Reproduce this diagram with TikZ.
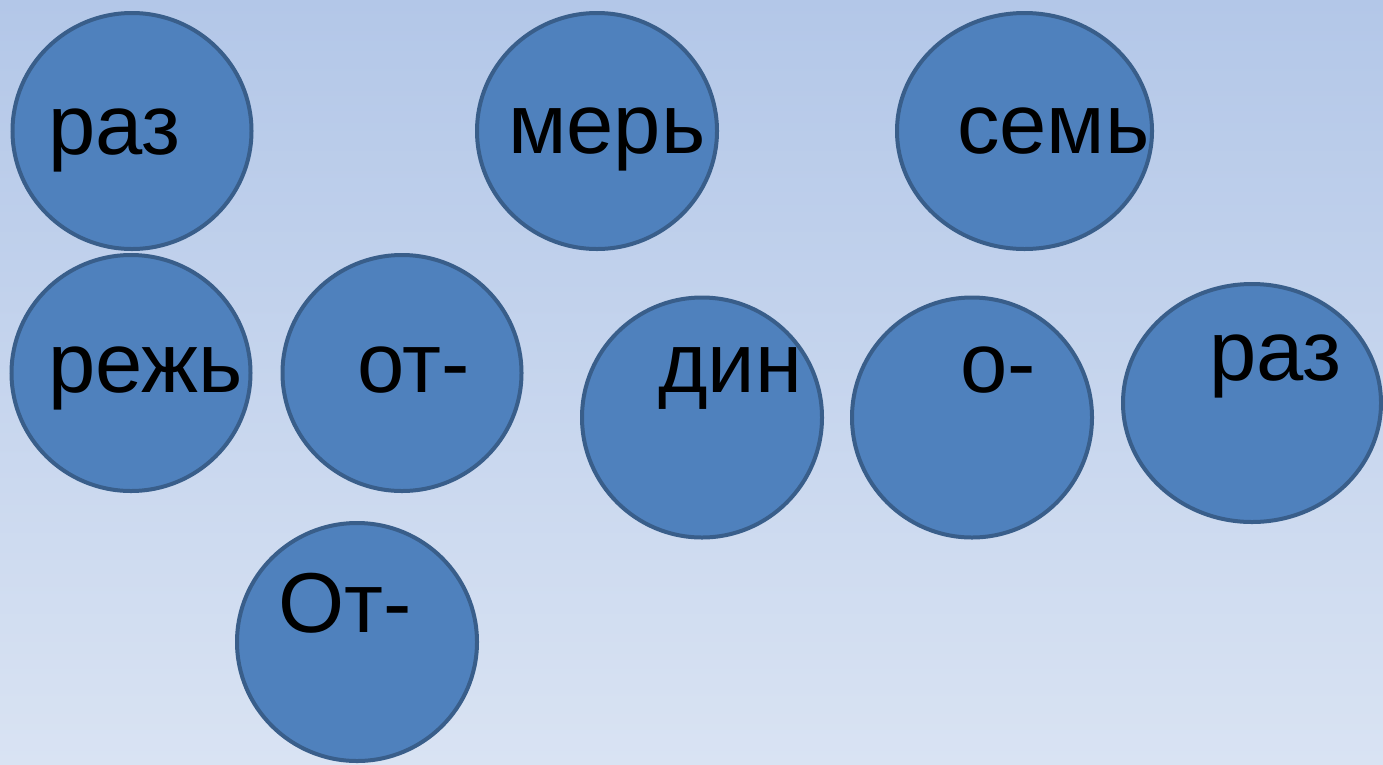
\documentclass[tikz,border=0pt]{standalone}
\usepackage{fontspec}
\setmainfont{Liberation Sans}
\usetikzlibrary{shapes.geometric}
\definecolor{bgtop}{RGB}{179,199,232}
\definecolor{bgbot}{RGB}{217,227,243}
\definecolor{ballfill}{RGB}{79,129,189}
\definecolor{balledge}{RGB}{57,94,138}
\tikzset{
  ball/.style={shape=ellipse, fill=ballfill, draw=balledge, line width=4pt, inner sep=0pt},
  word/.style={anchor=base west, inner sep=0pt, outer sep=0pt, text=black, font=\fontsize{85}{90}\selectfont}
}
\begin{document}
\begin{tikzpicture}[x=1pt,y=-1pt]
\shade[top color=bgtop, bottom color=bgbot] (0,0) rectangle (1383,764);
\useasboundingbox (0,0) rectangle (1383,764);
\node[ball, minimum width=239pt, minimum height=236pt] (c1) at (132,131) {};
\node[ball, minimum width=240pt, minimum height=236pt] (c2) at (597,131) {};
\node[ball, minimum width=255pt, minimum height=236pt] (c3) at (1024.5,131) {};
\node[ball, minimum width=239pt, minimum height=236pt] (c4) at (131,373) {};
\node[ball, minimum width=239pt, minimum height=236pt] (c5) at (402,373) {};
\node[ball, minimum width=240pt, minimum height=240pt] (c6) at (702,417.5) {};
\node[ball, minimum width=240pt, minimum height=240pt] (c7) at (972,417.5) {};
\node[ball, minimum width=258pt, minimum height=238pt] (c8) at (1252,403) {};
\node[ball, minimum width=240pt, minimum height=238pt] (c9) at (357,642) {};
\node[word] (t1) at (48,154) {раз};
\node[word] (t2) at (508,153) {мерь};
\node[word] (t3) at (957,153) {семь};
\node[word] (t4) at (48,392) {режь};
\node[word] (t5) at (357,392) {от-};
\node[word] (t6) at (658,392) {дин};
\node[word] (t7) at (960,392) {о-};
\node[word] (t8) at (1209,380) {раз};
\node[word] (t9) at (278,632) {От-};
\end{tikzpicture}
\end{document}
